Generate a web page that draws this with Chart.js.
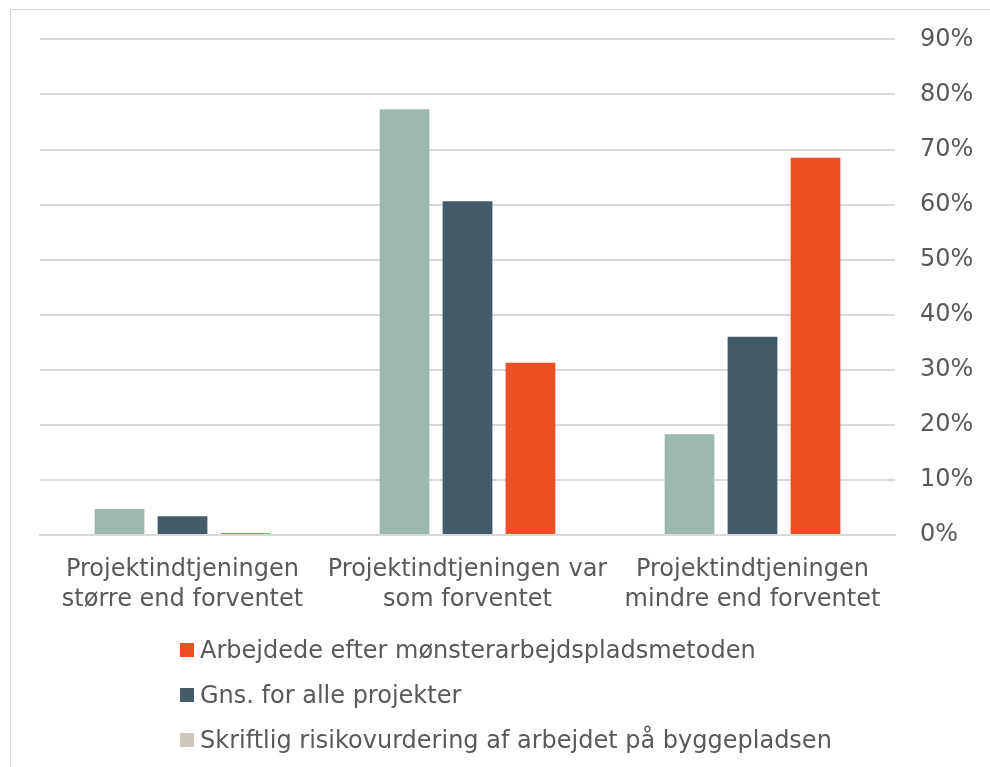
<!DOCTYPE html>
<html>
<head>
<meta charset="utf-8">
<script src="https://cdn.jsdelivr.net/npm/chart.js@4.4.0/dist/chart.umd.min.js"></script>
<style>
  html, body { margin: 0; padding: 0; background: #fff; }
  body { width: 990px; height: 767px; position: relative; overflow: hidden; font-family: "DejaVu Sans", Verdana, sans-serif; }
  #frame { position: absolute; left: 10px; top: 9px; width: 1000px; height: 800px; border: 1px solid #d9d9d9; box-sizing: border-box; }
  #wrap { position: absolute; left: 0; top: 0; width: 990px; height: 637px; }
  #legend { position: absolute; left: 180px; top: 627px; color: #595959; font-size: 24px; }
  .item { display: flex; align-items: center; height: 45px; }
  .box { width: 14px; height: 14px; margin-right: 6px; }
</style>
</head>
<body>
<div id="frame"></div>
<div id="wrap"><canvas id="chart"></canvas></div>
<div id="legend"></div>
<script>
// data
const categories = [
    ['Projektindtjeningen', 'større end forventet'],
    ['Projektindtjeningen var', 'som forventet'],
    ['Projektindtjeningen', 'mindre end forventet']
];
const risikoValues = [4.7, 77.3, 18.3];
const gnsValues = [3.4, 60.6, 36.0];
const moensterValues = [0.3, 31.3, 68.5];
const yTicks = [0, 10, 20, 30, 40, 50, 60, 70, 80, 90];

const seriesNames = [
    'Skriftlig risikovurdering af arbejdet på byggepladsen',
    'Gns. for alle projekter',
    'Arbejdede efter mønsterarbejdspladsmetoden'
];
const barColors = ['#9db8ae', '#435a69', '#f04e23'];
const legendColors = ['#d0c8bc', '#435a69', '#f04e23'];

const textColor = '#595959';
const fontFamily = '"DejaVu Sans", Verdana, sans-serif';

const chart = new Chart(document.getElementById('chart'), {
    type: 'bar',
    data: {
        labels: categories,
        datasets: [risikoValues, gnsValues, moensterValues].map((vals, i) => ({
            label: seriesNames[i],
            data: vals,
            backgroundColor: barColors[i],
            categoryPercentage: 0.663,
            barPercentage: 0.79
        }))
    },
    options: {
        responsive: true,
        maintainAspectRatio: false,
        animation: false,
        layout: { padding: { left: 40, right: 18, top: 27, bottom: 10 } },
        plugins: {
            legend: { display: false },
            tooltip: { enabled: false }
        },
        scales: {
            x: {
                grid: { display: false },
                border: { display: true, color: '#d9d9d9', width: 2 },
                ticks: {
                    color: textColor,
                    font: { family: fontFamily, size: 24, lineHeight: 1.25 },
                    padding: 12,
                    maxRotation: 0,
                    autoSkip: false
                }
            },
            y: {
                position: 'right',
                min: 0,
                max: 90,
                afterBuildTicks: axis => { axis.ticks = yTicks.map(v => ({ value: v })); },
                afterFit: axis => { axis.width = 77; },
                grid: { color: '#d9d9d9', lineWidth: 2, drawTicks: false },
                border: { display: false },
                ticks: {
                    color: textColor,
                    font: { family: fontFamily, size: 24 },
                    padding: 25,
                    callback: v => v + '%'
                }
            }
        }
    }
});

// legend as a vertical list, reversed order like the original
const legend = document.getElementById('legend');
[2, 1, 0].forEach(i => {
    const row = document.createElement('div');
    row.className = 'item';
    row.innerHTML = `<span class="box" style="background:${legendColors[i]}"></span><span>${seriesNames[i]}</span>`;
    legend.appendChild(row);
});
</script>
</body>
</html>
